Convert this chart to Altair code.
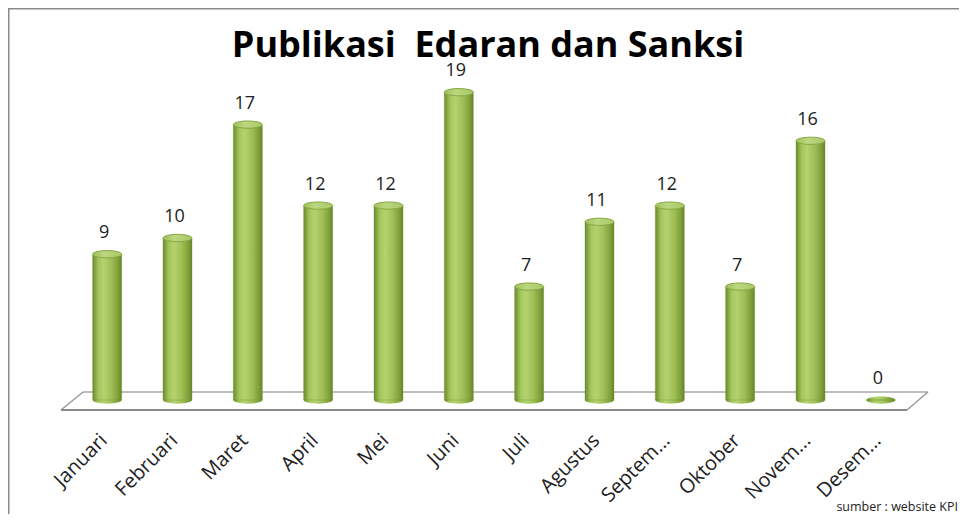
import altair as alt
import pandas as pd

months = ["Januari", "Februari", "Maret", "April", "Mei", "Juni", "Juli",
          "Agustus", "Septem...", "Oktober", "Novem...", "Desem..."]
values = [9, 10, 17, 12, 12, 19, 7, 11, 12, 7, 16, 0]
title_text = "Publikasi\u00a0 Edaran dan Sanksi"
source_text = "sumber : website KPI"

df = pd.DataFrame({"bulan": months, "jumlah": values})
one = pd.DataFrame({"t": [title_text]})
src = pd.DataFrame({"t": [source_text]})

FONT = "Open Sans"
xscale = alt.Scale(domain=months, range=[64, 908], paddingInner=0, paddingOuter=0)
yscale = alt.Scale(domain=[0, 19], range=[392, 84.2], zero=True, nice=False)

X = alt.X("bulan:N", scale=xscale, sort=months,
          axis=alt.Axis(title=None, orient="bottom", domain=False, ticks=False,
                        labelAngle=315, labelAlign="right", labelBaseline="middle",
                        labelPadding=0, labelOffset=-3, labelFont=FONT,
                        labelFontSize=20, labelColor="#222222", labelLimit=300))
Y = alt.Y("jumlah:Q", scale=yscale, axis=None)
Y0 = alt.Y("nol:Q", scale=yscale, axis=None)

ellipse = ("M -1 0 C -1 -0.138 -0.552 -0.25 0 -0.25 C 0.552 -0.25 1 -0.138 1 0 "
           "C 1 0.138 0.552 0.25 0 0.25 C -0.552 0.25 -1 0.138 -1 0 Z")
barGrad = alt.Gradient(gradient="linear", x1=0, x2=1, y1=0, y2=0, stops=[
    alt.GradientStop(color="#6c8a2c", offset=0),
    alt.GradientStop(color="#a3c75c", offset=0.2),
    alt.GradientStop(color="#b4d26e", offset=0.38),
    alt.GradientStop(color="#9dc055", offset=0.65),
    alt.GradientStop(color="#7f9f38", offset=0.88),
    alt.GradientStop(color="#66842a", offset=1),
])
topGrad = alt.Gradient(gradient="linear", x1=0, x2=1, y1=0, y2=0, stops=[
    alt.GradientStop(color="#9fc05a", offset=0),
    alt.GradientStop(color="#bcd780", offset=0.4),
    alt.GradientStop(color="#a9c865", offset=1),
])

floor_color = "#9a9a9a"
base = pd.DataFrame({"k": [0]})
floor_back = alt.Chart(base).mark_rule(color="#a8a8a8", strokeWidth=1.5).encode(
    x=alt.value(75), x2=alt.value(920), y=alt.value(384), y2=alt.value(384))
floor_front = alt.Chart(base).mark_rule(color="#888888", strokeWidth=2).encode(
    x=alt.value(53), x2=alt.value(899), y=alt.value(402), y2=alt.value(402))
floor_left = alt.Chart(base).mark_rule(color=floor_color, strokeWidth=1.5).encode(
    x=alt.value(53), x2=alt.value(75), y=alt.value(402), y2=alt.value(384))
floor_right = alt.Chart(base).mark_rule(color=floor_color, strokeWidth=1.5).encode(
    x=alt.value(899), x2=alt.value(920), y=alt.value(402), y2=alt.value(384))
border_left = alt.Chart(base).mark_rule(color="#8a8a8a", strokeWidth=1.5).encode(
    x=alt.value(0.75), x2=alt.value(0.75), y=alt.value(0), y2=alt.value(506))
border_top = alt.Chart(base).mark_rule(color="#8a8a8a", strokeWidth=1.5).encode(
    x=alt.value(0), x2=alt.value(951), y=alt.value(0.75), y2=alt.value(0.75))

bottoms = alt.Chart(df).transform_calculate(nol="0").mark_point(
    shape=ellipse, size=841, filled=True, fill=barGrad,
    opacity=1, strokeWidth=0).encode(x=X, y=Y0)
bars = alt.Chart(df).mark_bar(size=29, fill=barGrad, stroke="#74923a",
                              strokeWidth=0.4).encode(x=X, y=Y)
tops = alt.Chart(df).transform_filter("datum.jumlah > 0").mark_point(
    shape=ellipse, size=841, filled=True, fill=topGrad, opacity=1,
    stroke="#86a844", strokeWidth=1).encode(x=X, y=Y)
labels = alt.Chart(df).mark_text(font=FONT, fontSize=18, color="#222222",
                                 baseline="middle", dy=-21, dx=-3).encode(
    x=X, y=Y, text="jumlah:Q")

title = alt.Chart(one).mark_text(font=FONT, fontSize=36, fontWeight="bold",
                                 color="#000000", align="center",
                                 baseline="alphabetic").encode(
    x=alt.value(480), y=alt.value(49), text="t:N")
source = alt.Chart(src).mark_text(font=FONT, fontSize=12.5, color="#222222",
                                  align="right", baseline="alphabetic").encode(
    x=alt.value(950), y=alt.value(503), text="t:N")

chart = alt.layer(
    border_left, border_top,
    floor_back, floor_left, floor_right,
    bottoms, bars, tops, floor_front,
    labels, title, source
).properties(
    width=951, height=429,
    autosize=alt.AutoSizeParams(type="none"),
    padding={"left": 0, "top": 0, "right": 0, "bottom": 77},
    background="white",
).configure_view(strokeWidth=0)

chart.save("out.html", embed_options={"renderer": "svg", "actions": False})
